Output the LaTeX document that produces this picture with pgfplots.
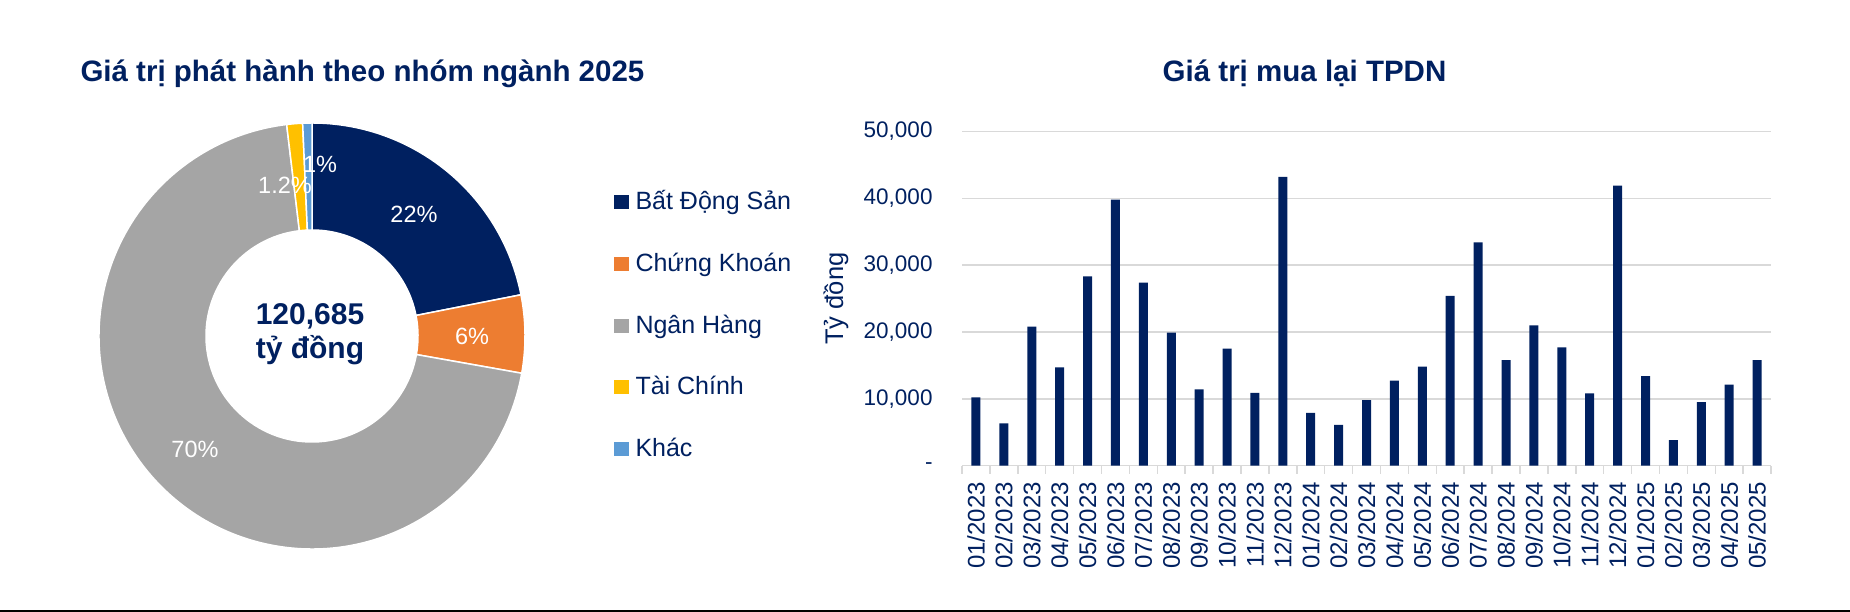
\documentclass[border=0pt]{standalone}
\usepackage{pgfplots}
\pgfplotsset{compat=1.18}
\usepackage{pgfplotstable}
\usepackage{fontspec}
\setmainfont{Liberation Sans}
\definecolor{navy}{HTML}{002060}
\definecolor{cBDS}{HTML}{002060}
\definecolor{cCK}{HTML}{ED7D31}
\definecolor{cNH}{HTML}{A5A5A5}
\definecolor{cTC}{HTML}{FFC000}
\definecolor{cKhac}{HTML}{5B9BD5}
\definecolor{gridgray}{HTML}{D9D9D9}

\pgfplotstableread{
value colour
21.9 cBDS
5.9 cCK
70.3 cNH
1.2 cTC
0.7 cKhac
}\pietable

\pgfplotstableread{
idx value
0 10200
1 6300
2 20800
3 14700
4 28300
5 39800
6 27400
7 19900
8 11400
9 17500
10 10900
11 43200
12 7900
13 6100
14 9800
15 12700
16 14800
17 25400
18 33400
19 15800
20 21000
21 17700
22 10800
23 41900
24 13400
25 3800
26 9500
27 12100
28 15800
}\buyback

\newcommand{\fs}[1]{\fontsize{#1}{#1}\selectfont}

\begin{document}
\begin{tikzpicture}
\begin{scope}[x=0.4pt,y=0.4pt]
\useasboundingbox (0,0) rectangle (1850,612);
\fill[black] (0,0) rectangle (1850,2.2);
% titles
\node[anchor=base west, inner sep=0pt, text=navy, font=\bfseries\fs{11.8pt}] at (80,530) {Giá trị phát hành theo nhóm ngành 2025};
\node[anchor=base, inner sep=0pt, text=navy, font=\bfseries\fs{11.8pt}] at (1304.5,530) {Giá trị mua lại TPDN};
% legend
\foreach \yc/\col/\txt in {410/cBDS/Bất Động Sản, 348/cCK/Chứng Khoán, 286/cNH/Ngân Hàng, 225/cTC/Tài Chính, 163/cKhac/Khác}{
  \fill[\col] (614,\yc-7.25) rectangle (628.5,\yc+7.25);
  \node[anchor=base west, inner sep=0pt, text=navy, font=\fs{10pt}] at (635,\yc-8) {\txt};
}
\end{scope}

% donut
\begin{axis}[at={(124.8pt,110.4pt)}, anchor=center, x=0.4pt, y=0.4pt,
  xmin=-220, xmax=220, ymin=-220, ymax=220, hide axis, clip=false]
\gdef\cum{0}
\pgfplotsinvokeforeach{0,...,4}{
  \pgfplotstablegetelem{#1}{value}\of\pietable \let\v\pgfplotsretval
  \pgfplotstablegetelem{#1}{colour}\of\pietable \let\c\pgfplotsretval
  \pgfmathsetmacro\aone{90-3.6*\cum}
  \pgfmathsetmacro\atwo{90-3.6*(\cum+\v)}
  \pgfmathparse{\cum+\v}\xdef\cum{\pgfmathresult}
  \edef\temp{\noexpand\path[fill=\c, draw=white, line width=0.6pt] (axis cs:0,0) ++(\aone:85.2pt) arc[start angle=\aone, end angle=\atwo, radius=85.2pt] -- ++(\atwo:-42.8pt) arc[start angle=\atwo, end angle=\aone, radius=42.4pt] -- cycle;}
  \temp
}
\node[text=white, font=\fs{9.4pt}] at (axis cs:102,122) {22\%};
\node[text=white, font=\fs{9.4pt}] at (axis cs:160,0) {6\%};
\node[text=white, font=\fs{9.4pt}] at (axis cs:-117,-113) {70\%};
\node[text=white, font=\fs{9.4pt}] at (axis cs:-27,151) {1.2\%};
\node[text=white, font=\fs{9.4pt}] at (axis cs:8,172) {1\%};
\node[anchor=base, text=navy, inner sep=0pt, font=\bfseries\fs{12pt}] at (axis cs:-2,11.3) {120,685};
\node[anchor=base, text=navy, inner sep=0pt, font=\bfseries\fs{12pt}] at (axis cs:-2,-23) {tỷ đồng};
\end{axis}

% bar chart
\begin{axis}[at={(384.8pt,58.56pt)}, anchor=south west, scale only axis,
  width=323.6pt, height=133.64pt,
  ybar, bar width=3.6pt,
  xmin=-0.5, xmax=28.5, ymin=0, ymax=50000,
  scaled y ticks=false,
  axis x line*=bottom, axis y line*=left,
  x axis line style={-, draw=gridgray, line width=0.6pt},
  y axis line style={draw=none},
  ymajorgrids, major grid style={gridgray, line width=0.6pt},
  tick align=outside, major tick length=0pt, minor tick length=3.2pt,
  ytick={0,10000,20000,30000,40000,50000},
  yticklabels={-,{10,000},{20,000},{30,000},{40,000},{50,000}},
  ytick style={draw=none},
  yticklabel style={inner sep=0pt, xshift=-11.6pt, text=navy, font=\fs{9pt}},
  xtick={0,...,28},
  xticklabels={01/2023,02/2023,03/2023,04/2023,05/2023,06/2023,07/2023,08/2023,09/2023,10/2023,11/2023,12/2023,01/2024,02/2024,03/2024,04/2024,05/2024,06/2024,07/2024,08/2024,09/2024,10/2024,11/2024,12/2024,01/2025,02/2025,03/2025,04/2025,05/2025},
  minor xtick={-0.5,0.5,...,28.5},
  minor x tick style={draw=gridgray, line width=0.6pt},
  major x tick style={draw=none},
  xticklabel style={rotate=90, anchor=east, inner sep=0pt, text=navy, font=\fs{9.6pt}},
  xticklabel shift=6.4pt,
  ylabel={Tỷ đồng},
  ylabel style={at={(axis description cs:-0.1557,0.5)}, anchor=center, text=navy, font=\fs{10.2pt}},
  clip=false]
\addplot[fill=navy, draw=none] table[x=idx, y=value] {\buyback};
\end{axis}
\end{tikzpicture}
\end{document}
